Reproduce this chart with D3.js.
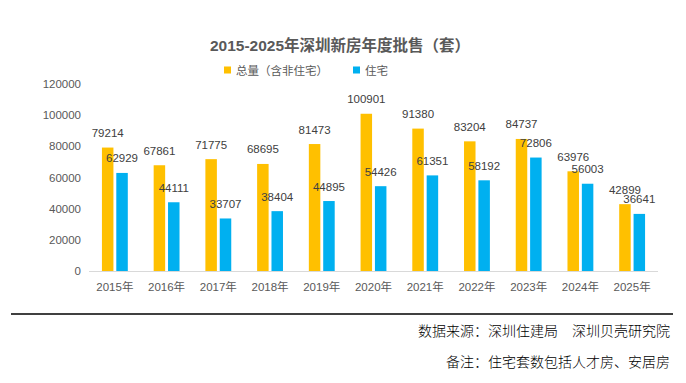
<!DOCTYPE html>
<html><head><meta charset="utf-8">
<script src="https://cdn.jsdelivr.net/npm/d3@7"></script>
<style>
html,body{margin:0;padding:0;background:#fff;}
svg{display:block;}
text{font-family:"Liberation Sans","Noto Sans CJK SC",sans-serif;}
</style></head>
<body>
<svg id="chart" width="686" height="383"></svg>
<script>
const categories = ["2015年","2016年","2017年","2018年","2019年","2020年","2021年","2022年","2023年","2024年","2025年"];
const seriesNames = ["总量（含非住宅）","住宅"];
const totalValues = [79214,67861,71775,68695,81473,100901,91380,83204,84737,63976,42899];
const residentialValues = [62929,44111,33707,38404,44895,54426,61351,58192,72806,56003,36641];
const yTicks = [0,20000,40000,60000,80000,100000,120000];
const colors = ["#FFC000","#00B0F0"];
const titleText = "2015-2025年深圳新房年度批售（套）";
const sourceText = "数据来源：深圳住建局　深圳贝壳研究院";
const noteText = "备注：住宅套数包括人才房、安居房";

const svg = d3.select("#chart");
const series = [totalValues, residentialValues];

const x0 = d3.scaleBand().domain(categories).range([89,658]).paddingInner(0.5).paddingOuter(0.25);
const x1 = d3.scaleBand().domain(seriesNames).range([0,x0.bandwidth()]).paddingInner(0.2);
const y = d3.scaleLinear().domain([0,120000]).range([271,84]);

// title
svg.append("text").attr("x",340).attr("y",51).attr("text-anchor","middle")
  .attr("font-size","15.5px").attr("font-weight","bold").attr("fill","#595959").text(titleText);

// legend
const legendX = [224,353];
seriesNames.forEach((s,i)=>{
  svg.append("rect").attr("x",legendX[i]).attr("y",66.5).attr("width",7).attr("height",7).attr("fill",colors[i]);
  svg.append("text").attr("x",legendX[i]+12).attr("y",74.5).attr("font-size","11.5px").attr("fill","#595959").text(s);
});

// y axis labels
svg.append("g").selectAll("text").data(yTicks).join("text")
  .attr("x",81).attr("y",d=>y(d)+4).attr("text-anchor","end")
  .attr("font-size","11.5px").attr("fill","#595959").text(d=>d);

// bars
const groups = svg.append("g").selectAll("g").data(categories).join("g")
  .attr("transform",d=>`translate(${x0(d)},0)`);
groups.selectAll("rect").data((d,i)=>series.map((vals,k)=>({k,v:vals[i]}))).join("rect")
  .attr("x",d=>x1(seriesNames[d.k])).attr("width",x1.bandwidth())
  .attr("y",d=>y(d.v)).attr("height",d=>y(0)-y(d.v)).attr("fill",d=>colors[d.k]);
groups.selectAll("text").data((d,i)=>series.map((vals,k)=>({k,v:vals[i]}))).join("text")
  .attr("x",d=>x1(seriesNames[d.k])+x1.bandwidth()/2).attr("y",d=>y(d.v)-10.5)
  .attr("text-anchor","middle").attr("font-size","11.5px").attr("fill","#404040").text(d=>d.v);

// baseline
svg.append("line").attr("x1",89).attr("x2",658).attr("y1",y(0)+0.5).attr("y2",y(0)+0.5)
  .attr("stroke","#d9d9d9").attr("stroke-width",1);

// x labels
svg.append("g").selectAll("text").data(categories).join("text")
  .attr("x",d=>x0(d)+x0.bandwidth()/2).attr("y",291).attr("text-anchor","middle")
  .attr("font-size","11.5px").attr("fill","#595959").text(d=>d);

// separator
svg.append("line").attr("x1",11).attr("x2",673).attr("y1",314).attr("y2",314).attr("stroke","#000").attr("stroke-width",1.3);

// footer
svg.append("text").attr("x",670).attr("y",336).attr("text-anchor","end").attr("font-size","14px")
  .attr("fill","#000").attr("font-weight",300).style("font-family","'Noto Sans CJK SC',sans-serif").text(sourceText);
svg.append("text").attr("x",670).attr("y",367).attr("text-anchor","end").attr("font-size","14px")
  .attr("fill","#000").attr("font-weight",300).style("font-family","'Noto Sans CJK SC',sans-serif").text(noteText);
</script>
</body></html>
